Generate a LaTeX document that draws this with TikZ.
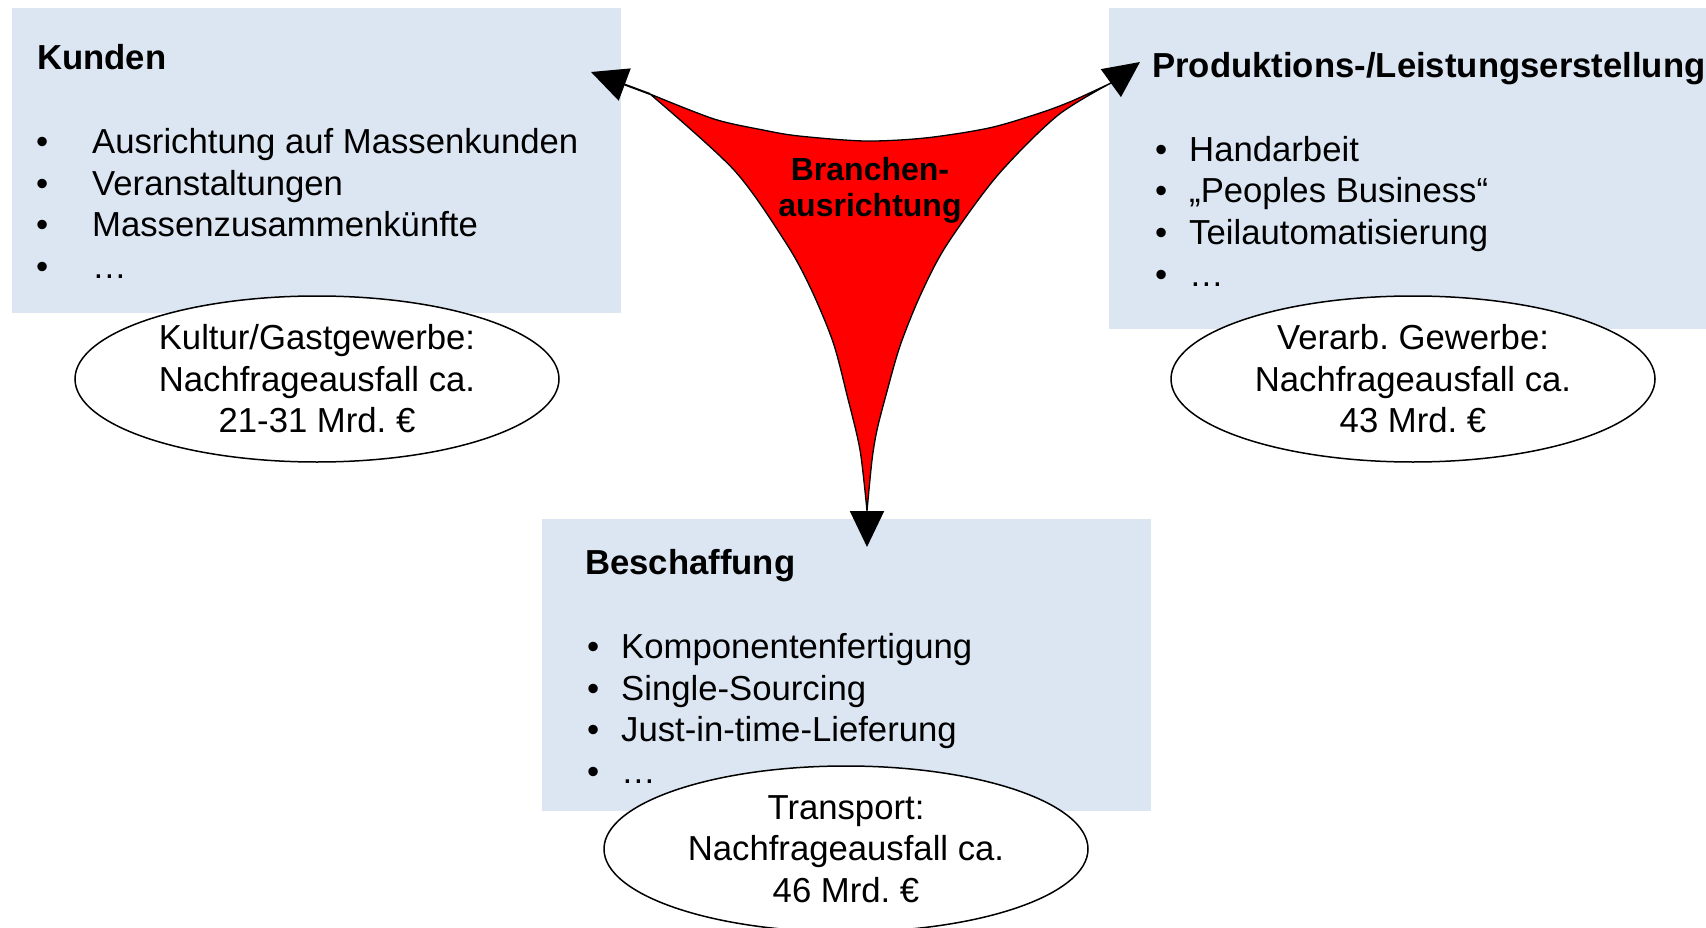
\documentclass[tikz,border=0pt]{standalone}
\usepackage{fontspec}
\setmainfont{Liberation Sans}
\usetikzlibrary{arrows.meta,shapes.geometric}
\definecolor{boxblue}{RGB}{220,230,242}
\begin{document}
\frenchspacing
\begin{tikzpicture}[x=1pt,y=-1pt,
  panel/.style={fill=boxblue, draw=none, inner sep=0pt, anchor=north west},
  oval/.style={ellipse, draw=black, line width=1.5pt, fill=white, inner sep=0pt,
     minimum width=484pt, minimum height=166pt, align=center,
     font=\fontsize{34.7}{41.5}\selectfont},
  txt/.style={font=\fontsize{34.7}{41.5}\selectfont, inner sep=0pt, anchor=base west},
  ttl/.style={font=\fontsize{34.7}{41.5}\selectfont\bfseries, inner sep=0pt, anchor=base west},
  conn/.style={line width=2pt, -{Triangle[length=36pt,width=34pt]}}
]
\useasboundingbox (0,0) rectangle (1706,928);

% panels
\node[panel, minimum width=609pt, minimum height=305pt] (kbox) at (12,8) {};
\node[panel, minimum width=597pt, minimum height=321pt] (pbox) at (1109,8) {};
\node[panel, minimum width=609pt, minimum height=292pt] (bbox) at (542,519) {};

% Kunden
\node[ttl] (kt) at (37,70) {Kunden};
\node[txt] (kb1) at (36,154) {•}; \node[txt] (k1) at (92,154) {Ausrichtung auf Massenkunden};
\node[txt] (kb2) at (36,196) {•}; \node[txt] (k2) at (92,196) {Veranstaltungen};
\node[txt] (kb3) at (36,237) {•}; \node[txt] (k3) at (92,237) {Massenzusammenkünfte};
\node[txt] (kb4) at (36,278) {•}; \node[txt] (k4) at (92,278) {…};

% Produktion
\node[ttl] (pt) at (1152,78) {Produktions-/Leistungserstellung};
\node[txt] (pb1) at (1155,162) {•}; \node[txt] (p1) at (1189,162) {Handarbeit};
\node[txt] (pb2) at (1155,203) {•}; \node[txt] (p2) at (1189,203) {„Peoples Business“};
\node[txt] (pb3) at (1155,245) {•}; \node[txt] (p3) at (1189,245) {Teilautomatisierung};
\node[txt] (pb4) at (1155,287) {•}; \node[txt] (p4) at (1189,287) {…};

% Beschaffung
\node[ttl] (bt) at (585,574) {Beschaffung};
\node[txt] (bb1) at (587,658) {•}; \node[txt] (b1) at (621,658) {Komponentenfertigung};
\node[txt] (bb2) at (587,700) {•}; \node[txt] (b2) at (621,700) {Single-Sourcing};
\node[txt] (bb3) at (587,741) {•}; \node[txt] (b3) at (621,741) {Just-in-time-Lieferung};
\node[txt] (bb4) at (587,783) {•}; \node[txt] (b4) at (621,783) {…};

% ellipses
\node[oval] (e1) at (317,379) {Kultur/Gastgewerbe:\\Nachfrageausfall ca.\\21-31 Mrd. €};
\node[oval] (e2) at (1413,379) {Verarb. Gewerbe:\\Nachfrageausfall ca.\\43 Mrd. €};
\node[oval] (e3) at (846,849) {Transport:\\Nachfrageausfall ca.\\46 Mrd. €};

% red curved triangle
\coordinate (Lt) at (650,94);
\coordinate (Rt) at (1111,83);
\coordinate (Bt) at (867,511);
\filldraw[fill=red, draw=black, line width=1.3pt, line join=round]
  plot[smooth, tension=0.5] coordinates {(Lt) (734,170) (786,243) (811,289) (833,342) (847,395) (860,450) (867,511)}
  -- plot[smooth, tension=0.5] coordinates {(Bt) (872,460) (877,430) (886,395) (900,346) (920,296) (946,246) (997,176) (1057,116) (Rt)}
  -- plot[smooth, tension=0.5] coordinates {(Rt) (1072,101) (1040,113) (989,128) (925,138) (865,141) (799,136) (763,130) (714,119) (Lt)}
  -- cycle;

% arrows
\coordinate (La) at (591,72);
\coordinate (Ra) at (1140,62);
\coordinate (Ba) at (867,547);
\draw[conn] (Lt) -- (La);
\draw[conn] (Rt) -- (Ra);
\draw[conn] (Bt) -- (Ba);

\node[font=\fontsize{32}{36}\selectfont\bfseries, align=center, inner sep=0pt] (br) at (870,190) {Branchen-\\ausrichtung};
\end{tikzpicture}
\end{document}
